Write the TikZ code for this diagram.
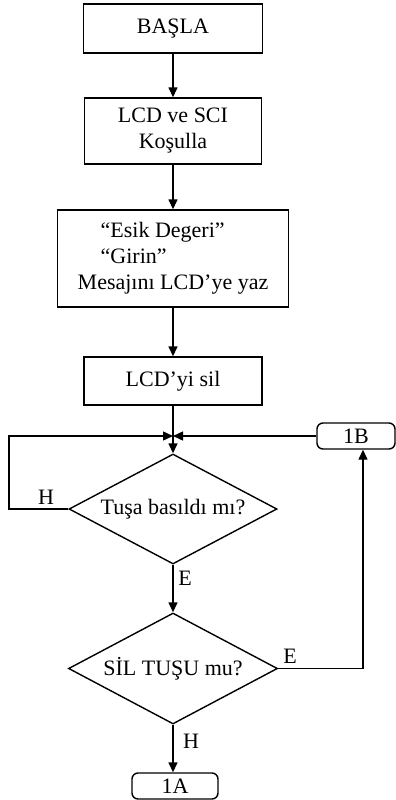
\documentclass[tikz,border=0pt]{standalone}
\usepackage{fontspec}
\setmainfont{Liberation Serif}
\usetikzlibrary{arrows.meta,shapes.geometric}

\begin{document}
\begin{tikzpicture}[x=0.5pt,y=-0.5pt,line width=0.7pt,>={Triangle[length=5pt,width=4.5pt]},
	every node/.style={font=\fontsize{11pt}{13pt}\selectfont},
	kutu/.style={draw,align=center,inner sep=2pt},
	karar/.style={draw,diamond,aspect=1.9,inner sep=0pt},
	baglanti/.style={draw,rounded corners=3pt,inner sep=1pt,minimum height=13pt},
	etiket/.style={inner sep=0pt}]

	\useasboundingbox (0,0) rectangle (396,800);

	\node[kutu,minimum width=89.5pt,minimum height=24.5pt] (basla) at (173,28.5) {BAŞLA};
	\node[kutu,minimum width=88.5pt,minimum height=33pt] (kosul) at (173,131) {LCD ve SCI\\Koşulla};
	\node[kutu,minimum width=115.5pt,minimum height=48.5pt,align=left] (mesaj) at (173,258.5)
		{\hspace{11.5pt}“Esik Degeri”\\\hspace{11.5pt}“Girin”\\Mesajını LCD’ye yaz};
	\node[kutu,minimum width=89pt,minimum height=24pt] (sil) at (173,381) {LCD’yi sil};
	\coordinate (jn) at (173,436);
	\node[karar,minimum width=104pt,minimum height=55pt] (d1) at (173,509) {Tuşa basıldı mı?};
	\node[karar,minimum width=104.5pt,minimum height=55.5pt] (d2) at (173,668.5) {SİL TUŞU mu?};
	\node[baglanti,minimum width=39pt] (b1B) at (356,436) {1B};
	\node[baglanti,minimum width=43pt] (b1A) at (175,786) {1A};

	\coordinate (sol) at (9,436);
	\coordinate (sag) at (363,668.5);

	\draw[->] (basla) -- (kosul);
	\draw[->] (kosul) -- (mesaj);
	\draw[->] (mesaj) -- (sil);
	\draw[->] (sil) -- (d1);
	\draw[->] (d1.west) -| (sol) -- (jn);
	\draw[->] (b1B) -- (jn);
	\draw[->] (d1) -- (d2);
	\draw[->] (d2.east) -- (sag) -- (sag |- b1B.south);
	\draw[->] (d2.south) -- (d2.south |- b1A.north);

	\node[etiket] (h1) at (46,497) {H};
	\node[etiket] (e1) at (185,578) {E};
	\node[etiket] (e2) at (290,656) {E};
	\node[etiket] (h2) at (191,741) {H};

\end{tikzpicture}
\end{document}
